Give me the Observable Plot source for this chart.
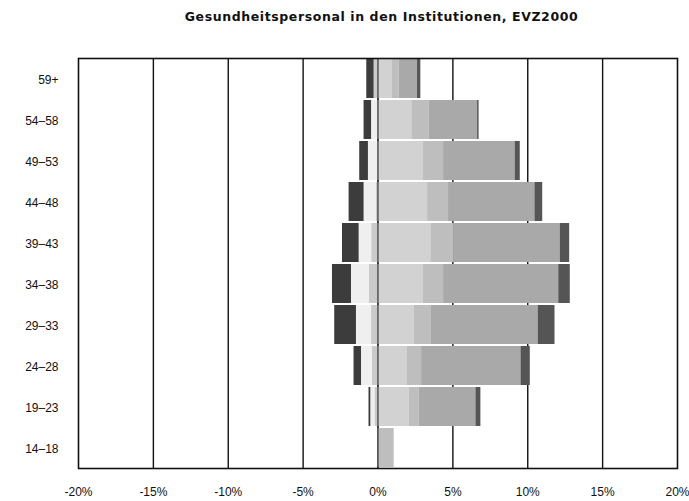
<!DOCTYPE html>
<html>
<head>
<meta charset="utf-8">
<script src="https://cdn.jsdelivr.net/npm/d3@7"></script>
<script src="https://cdn.jsdelivr.net/npm/@observablehq/plot@0.6"></script>
<style>
  html, body { margin: 0; padding: 0; background: #fff; }
  #title { margin-left: 82px; width: 599px; height: 36px; line-height: 34px; text-align: center;
    font-family: "DejaVu Sans", sans-serif; font-weight: bold; font-size: 12.5px;
    letter-spacing: 0.6px; color: #111; }
</style>
</head>
<body>
<div id="title">Gesundheitspersonal in den Institutionen, EVZ2000</div>
<div id="chart"></div>
<script>
const ages = ["59+", "54–58", "49–53", "44–48", "39–43", "34–38", "29–33", "24–28", "19–23", "14–18"];
// left side (negative), from 0 outward
const leftA = [0.26, 0.00, 0.00, 0.10, 0.42, 0.59, 0.43, 0.37, 0.20, 0];
const leftB = [0.00, 0.43, 0.64, 0.83, 0.84, 1.18, 1.01, 0.73, 0.28, 0];
const leftC = [0.49, 0.50, 0.58, 1.00, 1.11, 1.27, 1.45, 0.50, 0.12, 0];
// right side (positive), from 0 outward
const right1 = [0.97, 2.26, 3.04, 3.31, 3.53, 3.04, 2.41, 1.93, 2.08, 0];
const right2 = [0.44, 1.16, 1.34, 1.40, 1.52, 1.34, 1.12, 0.98, 0.67, 1.08];
const right3 = [1.23, 3.23, 4.78, 5.77, 7.12, 7.69, 7.17, 6.64, 3.79, 0];
const right4 = [0.22, 0.10, 0.34, 0.52, 0.63, 0.77, 1.12, 0.62, 0.33, 0];
const xTicks = [-20, -15, -10, -5, 0, 5, 10, 15, 20];

const seriesNames = ["L1", "L2", "L3", "R1", "R2", "R3", "R4"];
const seriesColors = ["#cacaca", "#efefef", "#3c3c3c", "#d2d2d2", "#bebebe", "#a9a9a9", "#555555"];
const seriesData = [leftA.map(v => -v), leftB.map(v => -v), leftC.map(v => -v), right1, right2, right3, right4];

const rows = [];
seriesNames.forEach((s, i) => {
  ages.forEach((a, j) => {
    rows.push({age: a, series: s, value: seriesData[i][j]});
  });
});

const font = "'Liberation Sans', Arial, sans-serif";
const chart = Plot.plot({
  width: 689,
  height: 465,
  marginTop: 22,
  marginBottom: 33,
  marginLeft: 78,
  marginRight: 12,
  style: {fontFamily: font, fontSize: "12px", color: "#111", background: "#fff"},
  x: {domain: [-20, 20]},
  y: {domain: ages, paddingInner: 0.05, paddingOuter: 0.02},
  color: {domain: seriesNames, range: seriesColors},
  marks: [
    Plot.ruleX(xTicks.filter(d => d !== -20 && d !== 20), {stroke: "#111", strokeWidth: 1.4}),
    Plot.barX(rows, {x: "value", y: "age", fill: "series"}),
    Plot.ruleX([0], {stroke: "#222", strokeWidth: 1}),
    Plot.frame({stroke: "#111", strokeWidth: 1.6}),
    Plot.axisX({ticks: xTicks, tickFormat: d => d + "%", tickSize: 0, tickPadding: 19, label: null, fill: "#111"}),
    Plot.axisY({tickSize: 0, tickPadding: 20, label: null, fill: "#111", dy: 1})
  ]
});
document.getElementById("chart").appendChild(chart);
</script>
</body>
</html>
